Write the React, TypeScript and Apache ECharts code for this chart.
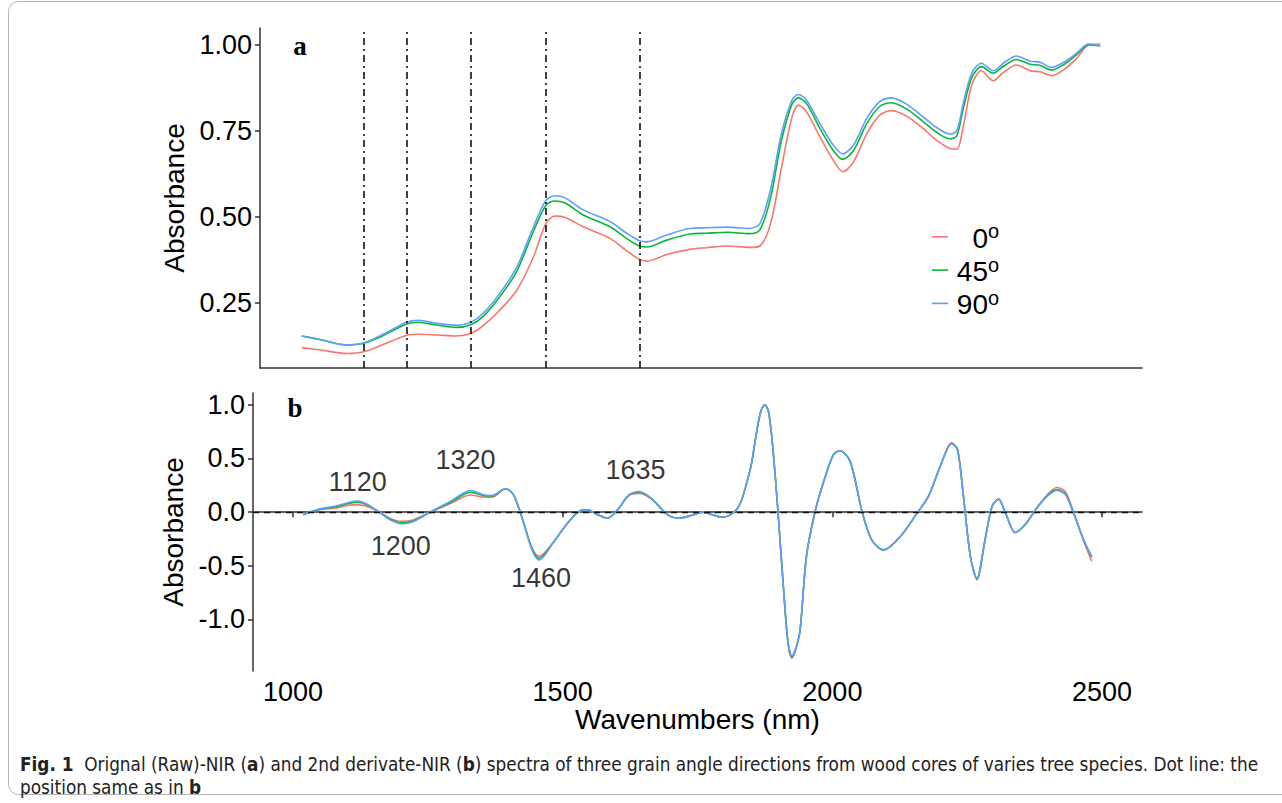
import React, { useEffect, useRef } from "react";
import * as echarts from "echarts";

// ---------- Panel a: raw NIR spectra ----------
const aNm = [1004, 1040, 1088, 1120, 1156, 1200, 1222, 1256, 1293, 1320, 1343, 1374, 1406, 1437, 1460, 1477, 1496, 1530, 1580, 1611, 1635, 1649, 1686, 1729, 1760, 1800, 1840, 1860, 1880, 1900, 1920, 1932, 1947, 1972, 1997, 2015, 2035, 2060, 2084, 2106, 2134, 2165, 2190, 2215, 2228, 2240, 2256, 2274, 2296, 2315, 2339, 2365, 2383, 2405, 2427, 2452, 2474, 2496];
const a0 = [0.119, 0.112, 0.102, 0.107, 0.128, 0.155, 0.158, 0.156, 0.153, 0.160, 0.183, 0.228, 0.287, 0.383, 0.480, 0.502, 0.498, 0.471, 0.437, 0.401, 0.376, 0.371, 0.390, 0.405, 0.410, 0.415, 0.411, 0.415, 0.480, 0.640, 0.790, 0.825, 0.806, 0.733, 0.665, 0.631, 0.660, 0.743, 0.796, 0.809, 0.793, 0.757, 0.723, 0.699, 0.697, 0.762, 0.884, 0.925, 0.896, 0.920, 0.942, 0.925, 0.922, 0.911, 0.927, 0.961, 1.000, 1.003];
const a45 = [0.153, 0.142, 0.127, 0.132, 0.154, 0.188, 0.193, 0.185, 0.178, 0.186, 0.210, 0.267, 0.342, 0.458, 0.533, 0.546, 0.540, 0.505, 0.471, 0.437, 0.415, 0.412, 0.432, 0.450, 0.452, 0.455, 0.451, 0.462, 0.555, 0.720, 0.828, 0.846, 0.830, 0.758, 0.693, 0.667, 0.693, 0.772, 0.821, 0.832, 0.814, 0.777, 0.746, 0.727, 0.736, 0.815, 0.905, 0.937, 0.918, 0.938, 0.958, 0.944, 0.941, 0.927, 0.942, 0.972, 1.000, 0.997];
const a90 = [0.153, 0.142, 0.127, 0.133, 0.158, 0.193, 0.199, 0.190, 0.184, 0.193, 0.219, 0.277, 0.354, 0.471, 0.547, 0.561, 0.555, 0.520, 0.486, 0.452, 0.430, 0.427, 0.447, 0.466, 0.468, 0.470, 0.466, 0.480, 0.580, 0.740, 0.840, 0.856, 0.840, 0.772, 0.709, 0.683, 0.709, 0.787, 0.835, 0.846, 0.828, 0.791, 0.760, 0.741, 0.750, 0.830, 0.918, 0.947, 0.925, 0.947, 0.968, 0.953, 0.950, 0.935, 0.949, 0.976, 1.003, 0.998];
const markedNm = [1120, 1200, 1320, 1460, 1635];

// ---------- Panel b: 2nd derivative spectra ----------
const bNm = [1019, 1044, 1081, 1100, 1118, 1136, 1161, 1180, 1202, 1224, 1255, 1292, 1329, 1353, 1369, 1394, 1409, 1428, 1443, 1456, 1465, 1484, 1509, 1533, 1546, 1565, 1583, 1602, 1623, 1642, 1664, 1695, 1717, 1738, 1760, 1778, 1797, 1819, 1830, 1840, 1850, 1860, 1868, 1875, 1882, 1890, 1900, 1910, 1918, 1925, 1932, 1940, 1952, 1968, 1983, 2002, 2014, 2033, 2055, 2073, 2095, 2126, 2157, 2178, 2200, 2221, 2232, 2243, 2256, 2268, 2283, 2296, 2308, 2321, 2339, 2357, 2379, 2398, 2416, 2432, 2447, 2466, 2481];
const b0 = [-0.025, 0.018, 0.040, 0.060, 0.070, 0.055, 0.000, -0.058, -0.085, -0.070, 0.000, 0.080, 0.160, 0.140, 0.140, 0.218, 0.162, -0.103, -0.330, -0.410, -0.385, -0.274, -0.103, 0.016, 0.022, -0.025, -0.056, 0.022, 0.155, 0.175, 0.125, -0.025, -0.056, -0.031, 0.000, -0.025, -0.047, 0.006, 0.090, 0.250, 0.450, 0.760, 0.950, 1.000, 0.930, 0.580, -0.050, -0.750, -1.230, -1.360, -1.280, -1.110, -0.410, 0.006, 0.270, 0.535, 0.572, 0.473, 0.006, -0.262, -0.355, -0.227, -0.009, 0.146, 0.426, 0.645, 0.588, 0.146, -0.420, -0.630, -0.262, 0.053, 0.121, -0.009, -0.190, -0.118, 0.040, 0.160, 0.230, 0.190, 0.000, -0.270, -0.460];
const b45 = [-0.025, 0.020, 0.050, 0.075, 0.092, 0.070, -0.002, -0.065, -0.100, -0.080, 0.002, 0.090, 0.185, 0.155, 0.150, 0.218, 0.162, -0.103, -0.340, -0.430, -0.400, -0.274, -0.103, 0.016, 0.022, -0.025, -0.056, 0.022, 0.160, 0.185, 0.128, -0.025, -0.056, -0.031, 0.000, -0.025, -0.047, 0.006, 0.090, 0.250, 0.450, 0.760, 0.950, 1.000, 0.930, 0.580, -0.050, -0.750, -1.225, -1.350, -1.275, -1.105, -0.410, 0.006, 0.270, 0.535, 0.572, 0.473, 0.006, -0.258, -0.351, -0.227, -0.009, 0.146, 0.426, 0.640, 0.584, 0.146, -0.416, -0.620, -0.258, 0.053, 0.121, -0.009, -0.190, -0.118, 0.038, 0.152, 0.210, 0.170, -0.005, -0.262, -0.420];
const b90 = [-0.025, 0.022, 0.059, 0.085, 0.106, 0.078, -0.003, -0.072, -0.109, -0.087, 0.003, 0.100, 0.202, 0.162, 0.155, 0.218, 0.162, -0.103, -0.351, -0.445, -0.414, -0.274, -0.103, 0.016, 0.022, -0.025, -0.056, 0.022, 0.162, 0.193, 0.131, -0.025, -0.056, -0.031, 0.000, -0.025, -0.047, 0.006, 0.090, 0.250, 0.450, 0.760, 0.950, 1.000, 0.930, 0.580, -0.050, -0.750, -1.220, -1.340, -1.270, -1.100, -0.410, 0.006, 0.270, 0.535, 0.572, 0.473, 0.006, -0.258, -0.351, -0.227, -0.009, 0.146, 0.426, 0.637, 0.581, 0.146, -0.414, -0.616, -0.258, 0.053, 0.121, -0.009, -0.190, -0.118, 0.037, 0.146, 0.202, 0.162, -0.009, -0.258, -0.414];
const peakLabels = ["1120", "1200", "1320", "1460", "1635"];
const peakLabelNm = [1120, 1200, 1320, 1460, 1635];
const peakLabelY = [0.285, -0.312, 0.488, -0.616, 0.388];

// ---------- axes / legend ----------
const xTicks = [1000, 1500, 2000, 2500];
const yTicksA = [0.25, 0.5, 0.75, 1.0];
const yTicksB = [-1.0, -0.5, 0.0, 0.5, 1.0];
const angleNames = ["0", "45", "90"];
const angleColors = ["#F8766D", "#00BA38", "#619CFF"];

const FONT = "'Liberation Sans', Arial, Helvetica, sans-serif";

function zip(xs: number[], ys: number[]) {
  return xs.map((x, i) => [x, ys[i]]);
}

export default function App() {
  const ref = useRef<HTMLDivElement>(null);
  useEffect(() => {
    if (!ref.current) return;
    const chart = echarts.init(ref.current, null, { renderer: "svg" });
    const axisLine = { show: true, lineStyle: { color: "#333", width: 1.5 } };
    const tickStyle = { color: "#333", width: 1.5 };
    const lineSeries = (name: string, xi: number, data: number[][], color: string) => ({
      name,
      type: "line",
      xAxisIndex: xi,
      yAxisIndex: xi,
      data,
      showSymbol: false,
      symbol: "none",
      smooth: 0.3,
      lineStyle: { color, width: 1.6 },
      itemStyle: { color },
      silent: true,
      z: 3,
    });
    const aSeriesData = [a0, a45, a90];
    const bSeriesData = [b0, b45, b90];

    const legendGraphics: any[] = [];
    angleNames.forEach((n, i) => {
      const cy = 238.3 + 33.3 * i;
      legendGraphics.push({
        type: "line",
        shape: { x1: 932, y1: cy - 1.5, x2: 948, y2: cy - 1.5 },
        style: { stroke: angleColors[i], lineWidth: 1.6 },
      });
      legendGraphics.push({
        type: "text",
        x: 988,
        y: cy,
        style: { text: n, fontSize: 28, fontFamily: FONT, fill: "#000", align: "right", verticalAlign: "middle" },
      });
      legendGraphics.push({
        type: "text",
        x: 988,
        y: cy - 7,
        style: { text: "o", fontSize: 20, fontFamily: FONT, fill: "#000", align: "left", verticalAlign: "middle" },
      });
    });

    const CAPFONT = "'Liberation Sans Narrow', 'DejaVu Sans Condensed', 'Open Sans', sans-serif";
    const CAPSIZE = 18.8;

    const option: any = {
      animation: false,
      backgroundColor: "#fff",
      grid: [
        { left: 260, top: 28, width: 882, height: 340 },
        { left: 253, top: 393, width: 889, height: 278 },
      ],
      xAxis: [
        {
          gridIndex: 0,
          type: "value",
          min: 926,
          max: 2574,
          axisLine,
          axisTick: { show: false },
          axisLabel: { show: false },
          splitLine: { show: false },
        },
        {
          gridIndex: 1,
          type: "value",
          min: 926,
          max: 2574,
          axisLine,
          axisTick: { show: true, length: 5, customValues: xTicks, lineStyle: tickStyle },
          axisLabel: {
            customValues: xTicks,
            formatter: (v: number) => String(v),
            fontSize: 27,
            fontFamily: FONT,
            color: "#000",
            margin: 7,
          },
          splitLine: { show: false },
          name: "Wavenumbers (nm)",
          nameLocation: "middle",
          nameGap: 33,
          nameTextStyle: { fontSize: 28, fontFamily: FONT, color: "#000" },
        },
      ],
      yAxis: [
        {
          gridIndex: 0,
          type: "value",
          min: 0.0598,
          max: 1.0495,
          axisLine,
          axisTick: { show: true, length: 5, customValues: yTicksA, lineStyle: tickStyle },
          axisLabel: {
            customValues: yTicksA,
            formatter: (v: number) => v.toFixed(2),
            fontSize: 27,
            fontFamily: FONT,
            color: "#000",
            margin: 8,
          },
          splitLine: { show: false },
          name: "Absorbance",
          nameLocation: "middle",
          nameRotate: 90,
          nameGap: 44,
          nameTextStyle: { fontSize: 28, fontFamily: FONT, color: "#000" },
        },
        {
          gridIndex: 1,
          type: "value",
          min: -1.48,
          max: 1.11,
          axisLine,
          axisTick: { show: true, length: 5, customValues: yTicksB, lineStyle: tickStyle },
          axisLabel: {
            customValues: yTicksB,
            formatter: (v: number) => v.toFixed(1),
            fontSize: 27,
            fontFamily: FONT,
            color: "#000",
            margin: 8,
          },
          splitLine: { show: false },
          name: "Absorbance",
          nameLocation: "middle",
          nameRotate: 90,
          nameGap: 39,
          nameTextStyle: { fontSize: 28, fontFamily: FONT, color: "#000" },
        },
      ],
      series: [
        {
          type: "line",
          xAxisIndex: 0,
          yAxisIndex: 0,
          data: [],
          silent: true,
          markLine: {
            silent: true,
            symbol: ["none", "none"],
            label: { show: false },
            lineStyle: { type: [7, 4, 2, 4], color: "#111", width: 1.6 },
            data: markedNm.map((v) => ({ xAxis: v })),
          },
        },
        ...angleNames.map((n, i) => lineSeries(n + "°", 0, zip(aNm, aSeriesData[i]), angleColors[i])),
        {
          type: "line",
          xAxisIndex: 1,
          yAxisIndex: 1,
          data: [],
          silent: true,
          markLine: {
            silent: true,
            symbol: ["none", "none"],
            label: { show: false },
            lineStyle: { type: [6, 5], color: "#111", width: 1.4 },
            data: [{ yAxis: 0 }],
          },
        },
        ...angleNames.map((n, i) => lineSeries(n + "° (2nd der.)", 1, zip(bNm, bSeriesData[i]), angleColors[i])),
        {
          type: "scatter",
          xAxisIndex: 1,
          yAxisIndex: 1,
          symbolSize: 1,
          itemStyle: { color: "transparent" },
          silent: true,
          data: peakLabels.map((t, i) => ({ name: t, value: [peakLabelNm[i], peakLabelY[i]] })),
          label: {
            show: true,
            position: "inside",
            formatter: "{b}",
            fontSize: 27,
            fontFamily: FONT,
            color: "#000",
          },
          z: 5,
        },
      ],
      graphic: [
        {
          type: "rect",
          shape: { x: 8.5, y: 1.5, width: 1300, height: 793, r: 10 },
          style: { fill: "none", stroke: "#b5b5b5", lineWidth: 1 },
          silent: true,
        },
        {
          type: "text",
          x: 300,
          y: 46,
          style: { text: "a", fontSize: 27, fontWeight: "bold", fontFamily: "'Liberation Serif', 'Times New Roman', serif", fill: "#000", align: "center", verticalAlign: "middle" },
        },
        {
          type: "text",
          x: 295,
          y: 408,
          style: { text: "b", fontSize: 27, fontWeight: "bold", fontFamily: "'Liberation Serif', 'Times New Roman', serif", fill: "#000", align: "center", verticalAlign: "middle" },
        },
        ...legendGraphics,
        {
          type: "text",
          x: 20,
          y: 764,
          style: {
            text: "{fb|Fig. 1}  Orignal (Raw)-NIR ({b|a}) and 2nd derivate-NIR ({b|b}) spectra of three grain angle directions from wood cores of varies tree species. Dot line: the",
            fontSize: CAPSIZE,
            fontFamily: CAPFONT,
            fill: "#222",
            verticalAlign: "middle",
            rich: {
              fb: { fontSize: CAPSIZE, fontWeight: "bold", fontFamily: CAPFONT, fill: "#222" },
              b: { fontSize: CAPSIZE, fontWeight: "bold", fontFamily: CAPFONT, fill: "#222" },
            },
          },
        },
        {
          type: "text",
          x: 20,
          y: 787,
          style: {
            text: "position same as in {b|b}",
            fontSize: CAPSIZE,
            fontFamily: CAPFONT,
            fill: "#222",
            verticalAlign: "middle",
            rich: {
              b: { fontSize: CAPSIZE, fontWeight: "bold", fontFamily: CAPFONT, fill: "#222" },
            },
          },
        },
      ],
    };
    chart.setOption(option);
    return () => chart.dispose();
  }, []);
  return (
    <div
      ref={ref}
      style={{ position: "absolute", left: 0, top: 0, width: 1282, height: 803, background: "#fff" }}
    />
  );
}
